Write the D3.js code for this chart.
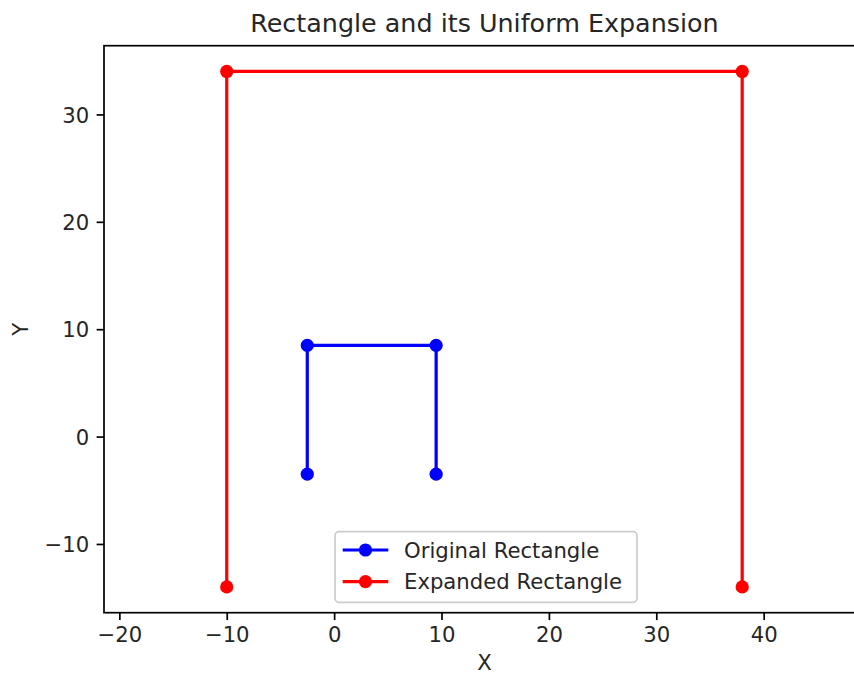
<!DOCTYPE html>
<html>
<head>
<meta charset="utf-8">
<script src="https://cdn.jsdelivr.net/npm/d3@7"></script>
<style>
  html, body { margin: 0; padding: 0; background: #ffffff; }
  svg { display: block; font-family: "DejaVu Sans", sans-serif; }
</style>
</head>
<body>
<svg id="chart" width="854" height="675"></svg>
<script>
// ---- data ----
const originalX = [-2.5, -2.5, 9.5, 9.5];
const originalY = [-3.5, 8.5, 8.5, -3.5];
const expandedX = [-10, -10, 38, 38];
const expandedY = [-14, 34, 34, -14];
const xTicks = [-20, -10, 0, 10, 20, 30, 40];
const yTicks = [-10, 0, 10, 20, 30];
const xLimits = [-21.43, 49.43];
const yLimits = [-16.4, 36.4];
const seriesNames = ["Original Rectangle", "Expanded Rectangle"];
const seriesColors = ["#0000ff", "#ff0000"];

// ---- layout ----
const svg = d3.select("#chart");
const mTop = 45.7, mBottom = 612.7, mLeft = 104;
const k = (mBottom - mTop) / (yLimits[1] - yLimits[0]); // equal aspect
const mRight = mLeft + (xLimits[1] - xLimits[0]) * k;

const x = d3.scaleLinear().domain(xLimits).range([mLeft, mRight]);
const y = d3.scaleLinear().domain(yLimits).range([mBottom, mTop]);

const fontSize = 21.2;
const tickLen = 7.4;
const spineW = 1.7;

// ---- data series ----
const series = [
  { name: seriesNames[0], color: seriesColors[0], pts: originalX.map((v, i) => [v, originalY[i]]) },
  { name: seriesNames[1], color: seriesColors[1], pts: expandedX.map((v, i) => [v, expandedY[i]]) }
];

const line = d3.line().x(d => x(d[0])).y(d => y(d[1]));
const plot = svg.append("g");
series.forEach(s => {
  plot.append("path")
    .attr("d", line(s.pts))
    .attr("fill", "none")
    .attr("stroke", s.color)
    .attr("stroke-width", 3.2)
    .attr("stroke-linejoin", "round")
    .attr("stroke-linecap", "butt");
  plot.selectAll(null).data(s.pts).enter().append("circle")
    .attr("cx", d => x(d[0]))
    .attr("cy", d => y(d[1]))
    .attr("r", 6.6)
    .attr("fill", s.color);
});

// ---- axes ----
const fmt = d => d < 0 ? "\u2212" + Math.abs(d) : String(d);
const xAxis = d3.axisBottom(x).tickValues(xTicks).tickSize(tickLen).tickPadding(5).tickFormat(fmt);
const gx = svg.append("g").attr("transform", `translate(0,${mBottom})`).call(xAxis);
gx.select(".domain").remove();
gx.selectAll(".tick line").attr("stroke", "#000").attr("stroke-width", spineW);
gx.selectAll(".tick text").attr("font-size", fontSize).attr("fill", "#262626")
  .attr("font-family", "DejaVu Sans").attr("dy", "0.71em").attr("y", tickLen + 7.2);

const yAxis = d3.axisLeft(y).tickValues(yTicks).tickSize(tickLen).tickPadding(7.4).tickFormat(fmt);
const gy = svg.append("g").attr("transform", `translate(${mLeft},0)`).call(yAxis);
gy.select(".domain").remove();
gy.selectAll(".tick line").attr("stroke", "#000").attr("stroke-width", spineW);
gy.selectAll(".tick text").attr("font-size", fontSize).attr("fill", "#262626")
  .attr("font-family", "DejaVu Sans").attr("dy", "0.36em");

// spines
svg.append("rect")
  .attr("x", mLeft).attr("y", mTop)
  .attr("width", mRight - mLeft).attr("height", mBottom - mTop)
  .attr("fill", "none").attr("stroke", "#000").attr("stroke-width", spineW);

// ---- title and labels ----
const cx = (mLeft + mRight) / 2;
svg.append("text").attr("x", cx).attr("y", 31.5)
  .attr("text-anchor", "middle").attr("font-size", 25.4).attr("fill", "#262626")
  .text("Rectangle and its Uniform Expansion");
svg.append("text").attr("x", cx).attr("y", 669.5)
  .attr("text-anchor", "middle").attr("font-size", fontSize).attr("fill", "#262626")
  .text("X");
svg.append("text")
  .attr("transform", `translate(27.5,${(mTop + mBottom) / 2}) rotate(-90)`)
  .attr("text-anchor", "middle").attr("font-size", fontSize).attr("fill", "#262626")
  .text("Y");

// ---- legend ----
const lg = svg.append("g");
const lgX = 335, lgY = 531.7, lgW = 302, lgH = 70.6;
lg.append("rect")
  .attr("x", lgX).attr("y", lgY).attr("width", lgW).attr("height", lgH)
  .attr("rx", 4).attr("ry", 4)
  .attr("fill", "#ffffff").attr("fill-opacity", 0.8)
  .attr("stroke", "#cccccc").attr("stroke-width", 1.7);
const rowY = [550, 581.7];
series.forEach((s, i) => {
  lg.append("line")
    .attr("x1", 342.7).attr("x2", 388.3)
    .attr("y1", rowY[i]).attr("y2", rowY[i])
    .attr("stroke", s.color).attr("stroke-width", 3.2);
  lg.append("circle").attr("cx", 365.5).attr("cy", rowY[i]).attr("r", 6.6).attr("fill", s.color);
  lg.append("text").attr("x", 404).attr("y", rowY[i]).attr("dy", "0.36em")
    .attr("font-size", fontSize).attr("fill", "#262626")
    .text(s.name);
});
</script>
</body>
</html>
